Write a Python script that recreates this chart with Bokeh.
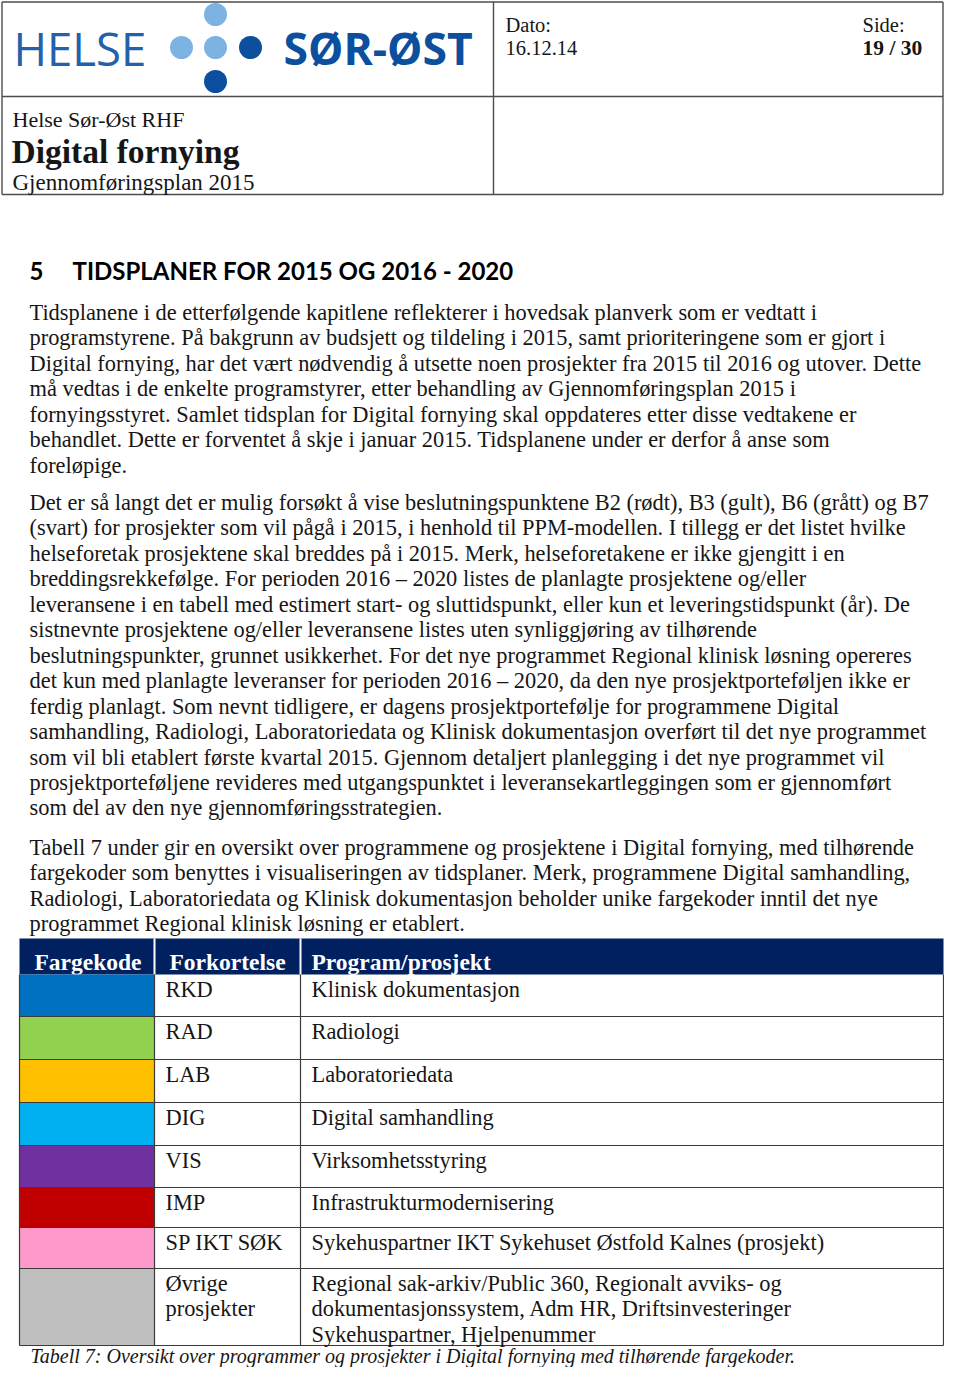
from bokeh.plotting import figure
from bokeh.models import Range1d
from bokeh.core.properties import value
from bokeh.embed import file_html
from bokeh.resources import INLINE

# ---------------- data ----------------
header_labels = ["Fargekode", "Forkortelse", "Program/prosjekt"]
color_codes = ["#0070C0", "#92D050", "#FFC000", "#00B0F0",
               "#7030A0", "#C00000", "#FF99CC", "#BFBFBF"]
abbreviations = ["RKD", "RAD", "LAB", "DIG", "VIS", "IMP", "SP IKT SØK",
                 "Øvrige\nprosjekter"]
programs = ["Klinisk dokumentasjon", "Radiologi", "Laboratoriedata",
            "Digital samhandling", "Virksomhetsstyring",
            "Infrastrukturmodernisering",
            "Sykehuspartner IKT Sykehuset Østfold Kalnes (prosjekt)",
            "Regional sak-arkiv/Public 360, Regionalt avviks- og\n"
            "dokumentasjonssystem, Adm HR, Driftsinvesteringer\n"
            "Sykehuspartner, Hjelpenummer"]

para1 = [
    "Tidsplanene i de etterfølgende kapitlene reflekterer i hovedsak planverk som er vedtatt i",
    "programstyrene. På bakgrunn av budsjett og tildeling i 2015, samt prioriteringene som er gjort i",
    "Digital fornying, har det vært nødvendig å utsette noen prosjekter fra 2015 til 2016 og utover. Dette",
    "må vedtas i de enkelte programstyrer, etter behandling av Gjennomføringsplan 2015 i",
    "fornyingsstyret. Samlet tidsplan for Digital fornying skal oppdateres etter disse vedtakene er",
    "behandlet. Dette er forventet å skje i januar 2015. Tidsplanene under er derfor å anse som",
    "foreløpige.",
]
para2 = [
    "Det er så langt det er mulig forsøkt å vise beslutningspunktene B2 (rødt), B3 (gult), B6 (grått) og B7",
    "(svart) for prosjekter som vil pågå i 2015, i henhold til PPM-modellen. I tillegg er det listet hvilke",
    "helseforetak prosjektene skal breddes på i 2015. Merk, helseforetakene er ikke gjengitt i en",
    "breddingsrekkefølge. For perioden 2016 – 2020 listes de planlagte prosjektene og/eller",
    "leveransene i en tabell med estimert start- og sluttidspunkt, eller kun et leveringstidspunkt (år). De",
    "sistnevnte prosjektene og/eller leveransene listes uten synliggjøring av tilhørende",
    "beslutningspunkter, grunnet usikkerhet. For det nye programmet Regional klinisk løsning opereres",
    "det kun med planlagte leveranser for perioden 2016 – 2020, da den nye prosjektporteføljen ikke er",
    "ferdig planlagt. Som nevnt tidligere, er dagens prosjektportefølje for programmene Digital",
    "samhandling, Radiologi, Laboratoriedata og Klinisk dokumentasjon overført til det nye programmet",
    "som vil bli etablert første kvartal 2015. Gjennom detaljert planlegging i det nye programmet vil",
    "prosjektporteføljene revideres med utgangspunktet i leveransekartleggingen som er gjennomført",
    "som del av den nye gjennomføringsstrategien.",
]
para3 = [
    "Tabell 7 under gir en oversikt over programmene og prosjektene i Digital fornying, med tilhørende",
    "fargekoder som benyttes i visualiseringen av tidsplaner. Merk, programmene Digital samhandling,",
    "Radiologi, Laboratoriedata og Klinisk dokumentasjon beholder unike fargekoder inntil det nye",
    "programmet Regional klinisk løsning er etablert.",
]
caption = "Tabell 7: Oversikt over programmer og prosjekter i Digital fornying med tilhørende fargekoder."
heading_num = "5"
heading = "TIDSPLANER FOR 2015 OG 2016 - 2020"

# ---------------- layout ----------------
W, H = 944, 1367
SERIF = value("Liberation Serif")
BODY = "22.4px"
LH = 25.45

p = figure(width=W, height=H, output_backend="svg", toolbar_location=None,
           x_range=Range1d(0, W), y_range=Range1d(H, 0),
           min_border=0, outline_line_color=None, background_fill_color="white")
p.axis.visible = False
p.grid.visible = False


def txt(x, y, s, size=BODY, font=SERIF, style="normal", color="#161616", align="left"):
    p.text(x=[x], y=[y], text=[s], text_font=font, text_font_size=size,
           text_font_style=style, text_color=color, text_align=align,
           text_baseline="middle")


# header box
box_c = "#4d4d4d"
R = W - 1.5
p.segment(x0=[1.5, 1.5, 1.5, 1.5, R, 493], y0=[1.5, 96, 194, 1.5, 1.5, 1.5],
          x1=[R, R, R, 1.5, R, 493], y1=[1.5, 96, 194, 194, 194, 194],
          line_color=box_c, line_width=1.4)

# logo
txt(13, 47, "HELSE", size="45.5px", font=value("Open Sans"), color="#2262AA")
p.circle(x=[181, 215, 215], y=[47, 14, 47], radius=11.5, fill_color="#7DB3E3",
         line_color=None)
p.circle(x=[250, 215], y=[47, 81], radius=11.5, fill_color="#0C4F9E", line_color=None)
txt(283, 47, "SØR-ØST", size="44.5px", font=value("Open Sans"), style="bold", color="#0C4F9E")

txt(12, 119, "Helse Sør-Øst RHF", size="22px")
txt(11, 151, "Digital fornying", size="33.5px", style="bold")
txt(12, 182, "Gjennomføringsplan 2015", size="23px")
txt(505, 24, "Dato:", size="20.5px")
txt(505, 47, "16.12.14", size="20.5px")
txt(862, 24, "Side:", size="20.5px")
txt(862, 47, "19 / 30", size="21.5px", style="bold")

# section heading
txt(29, 270, heading_num, size="24px", font=value("Lato"), style="bold", color="#000000")
txt(72, 270, heading, size="24px", font=value("Lato"), style="bold", color="#000000")

# paragraphs
for start, lines in ((312, para1), (502, para2), (847, para3)):
    for i, s in enumerate(lines):
        txt(29, start + i * LH, s)

# table
TL, C1, C2, TR = 19, 154, 300, 945
HT, HB = 938, 974
row_h = [42, 43, 43, 43, 42, 40, 41, 77]
tops = [HB]
for h in row_h:
    tops.append(tops[-1] + h)
TRc = min(TR, W - 1)

p.quad(left=[TL], right=[TRc], top=[HT], bottom=[HB], fill_color="#002060", line_color=None)
p.segment(x0=[C1, C2], y0=[HT, HT], x1=[C1, C2], y1=[HB, HB], line_color="white", line_width=2)
for x, lab in zip([TL + 15, C1 + 15, C2 + 11], header_labels):
    txt(x, 961, lab, size="23.5px", style="bold", color="white")

p.quad(left=[TL] * len(color_codes), right=[C1] * len(color_codes),
       top=tops[:-1], bottom=tops[1:], fill_color=color_codes, line_color=None)

# grid lines
p.segment(x0=[TL] * (len(tops) - 1), y0=tops[1:], x1=[TRc] * (len(tops) - 1), y1=tops[1:],
          line_color="#3a3a3a", line_width=1.2)
p.segment(x0=[TL, C1, C2, TRc], y0=[HB] * 4, x1=[TL, C1, C2, TRc], y1=[tops[-1]] * 4,
          line_color="#3a3a3a", line_width=1.2)

for i, (ab, pr) in enumerate(zip(abbreviations, programs)):
    for j, s in enumerate(ab.split("\n")):
        txt(C1 + 11, tops[i] + 15 + j * LH, s)
    for j, s in enumerate(pr.split("\n")):
        txt(C2 + 11, tops[i] + 15 + j * LH, s)

txt(30, 1355, caption, size="20px", style="italic")

open("out.html", "w").write(file_html(p, INLINE))
